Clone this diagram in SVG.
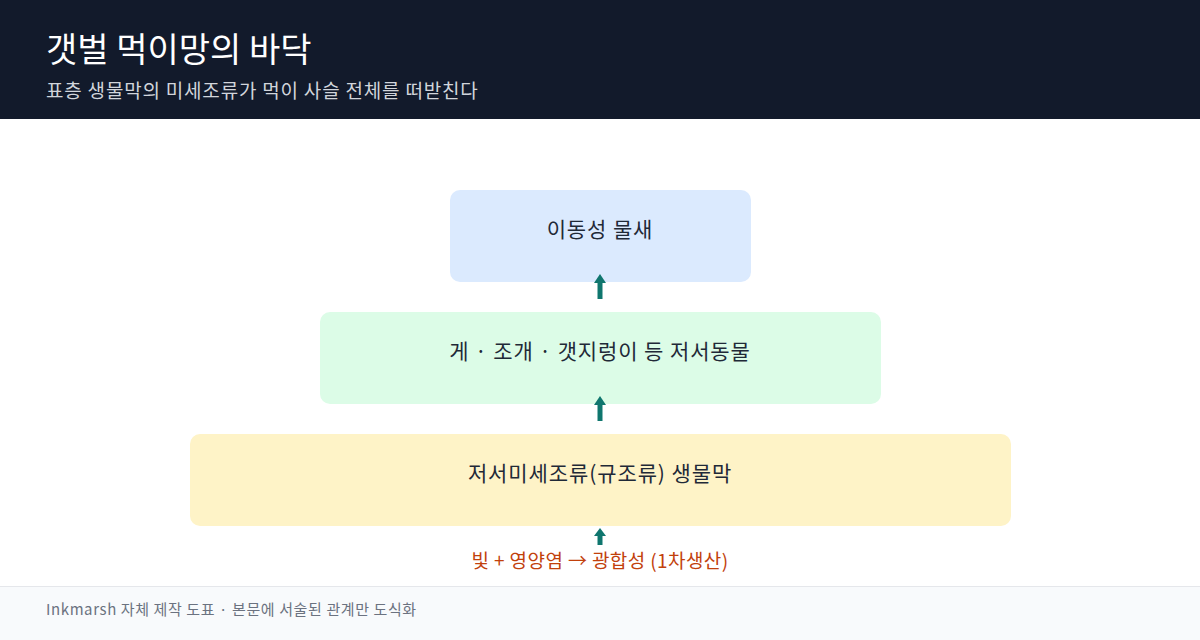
<svg xmlns="http://www.w3.org/2000/svg" width="1200" height="640" viewBox="0 0 1200 640">
<defs>
<style>
text{font-family:"Noto Sans CJK KR","Noto Sans",sans-serif}
.t{fill:#ffffff;font-size:34px}
.s{fill:#d1d5db;font-size:19px;letter-spacing:0.8px}
.n{fill:#1f2937;font-size:21px;letter-spacing:0.9px;text-anchor:middle}
.f{fill:#6b7280;font-size:15px;letter-spacing:0.6px}
.e{stroke:#0f766e;stroke-width:5;fill:none}
.h{fill:#0f766e}
</style>
</defs>
<rect x="0" y="0" width="1200" height="640" fill="#ffffff"/>
<rect x="0" y="0" width="1200" height="119" fill="#121a2b"/>
<text class="t" x="46" y="62">갯벌 먹이망의 바닥</text>
<text class="s" x="46" y="98">표층 생물막의 미세조류가 먹이 사슬 전체를 떠받친다</text>
<g id="node-water">
<rect x="450" y="190" width="301" height="92" rx="10" fill="#dbeafe"/>
<text class="n" x="600" y="237">이동성 물새</text>
</g>
<g id="node-benthos">
<rect x="320" y="312" width="561" height="92" rx="10" fill="#dcfce7"/>
<text class="n" x="600" y="359">게 · 조개 · 갯지렁이 등 저서동물</text>
</g>
<g id="node-biofilm">
<rect x="190" y="434" width="821" height="92" rx="10" fill="#fef3c7"/>
<text class="n" x="600" y="481">저서미세조류(규조류) 생물막</text>
</g>
<g id="connectors">
<line class="e" x1="600" y1="299" x2="600" y2="281"/>
<polygon class="h" points="594,283 606,283 600,274"/>
<line class="e" x1="600" y1="421" x2="600" y2="403"/>
<polygon class="h" points="594,405 606,405 600,396"/>
<line class="e" x1="600" y1="545" x2="600" y2="533"/>
<polygon class="h" points="594,536 606,536 600,528"/>
</g>
<text x="600" y="568" fill="#c2410c" font-size="19" letter-spacing="0.4" text-anchor="middle">빛 + 영양염 → 광합성 (1차생산)</text>
<rect x="0" y="586" width="1200" height="54" fill="#f8fafc"/>
<line x1="0" y1="586.5" x2="1200" y2="586.5" stroke="#e5e7eb" stroke-width="1"/>
<text class="f" x="46" y="615">Inkmarsh 자체 제작 도표 · 본문에 서술된 관계만 도식화</text>
</svg>
